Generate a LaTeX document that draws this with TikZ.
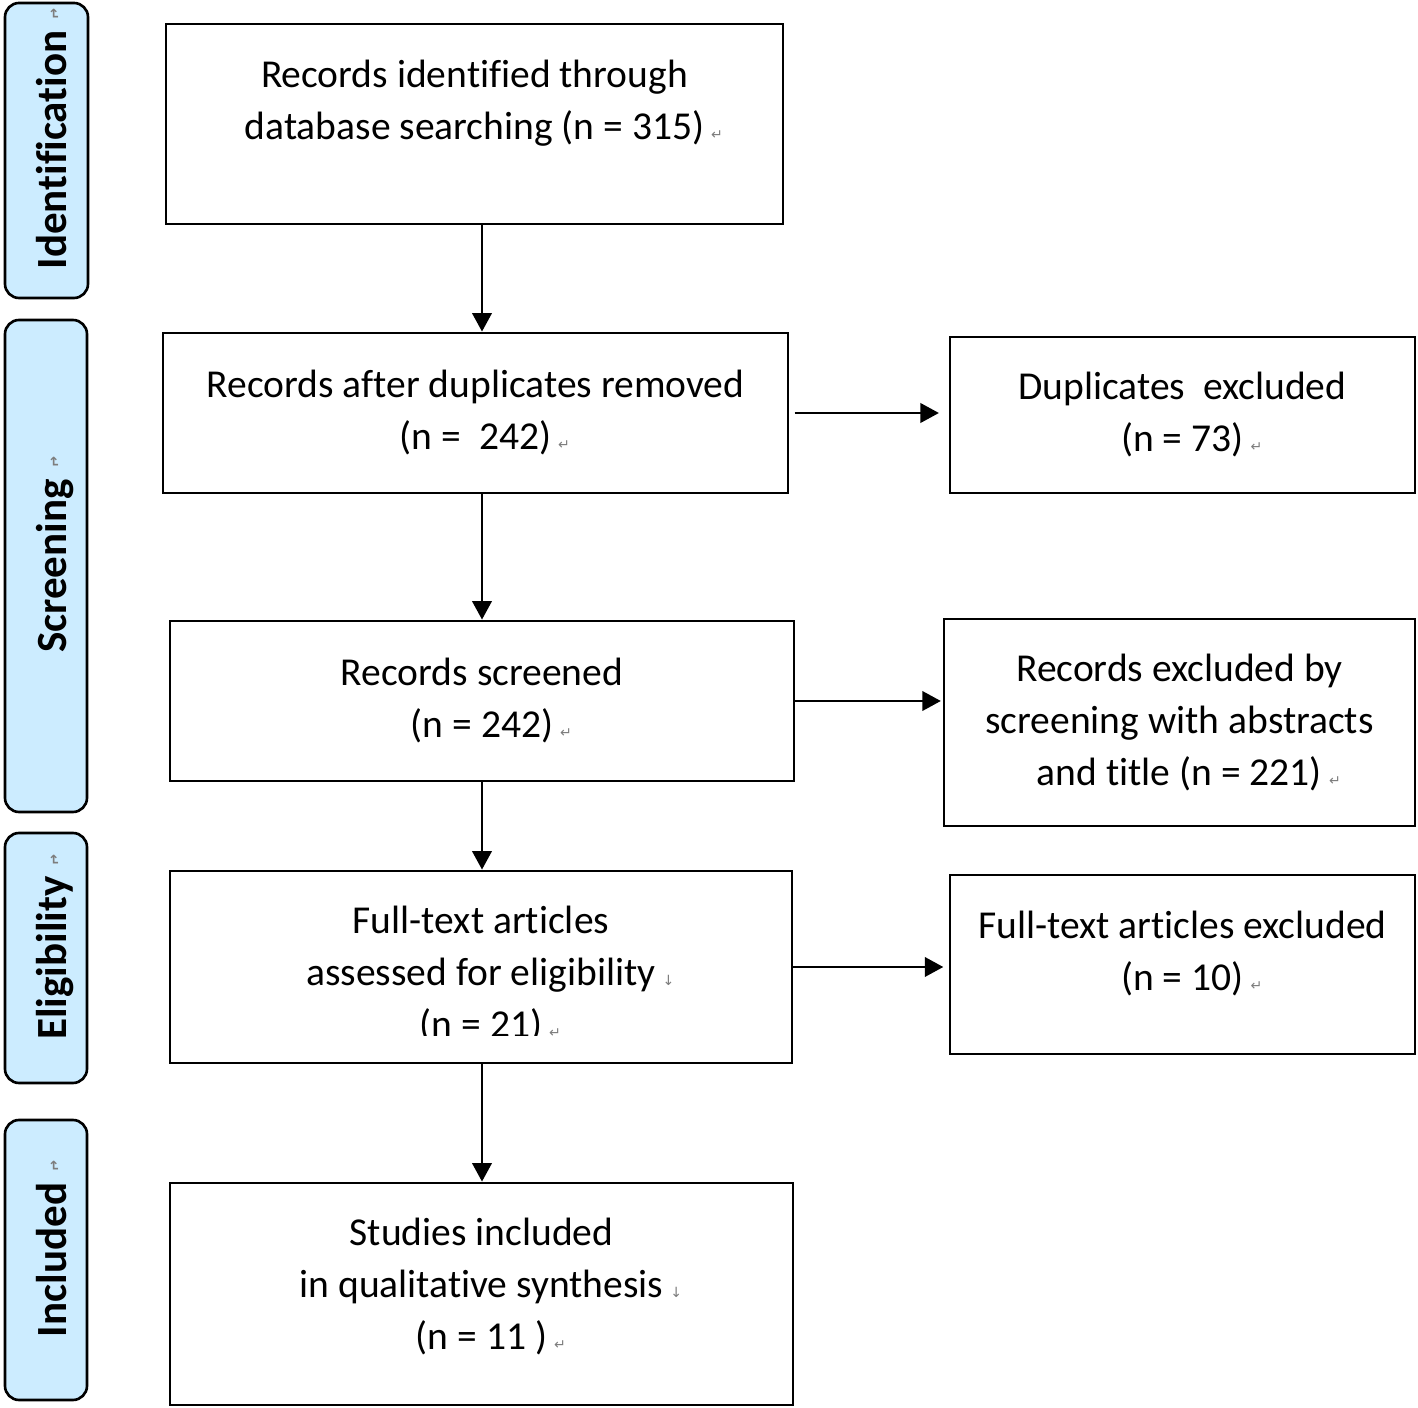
\documentclass[tikz,border=0pt]{standalone}
\usepackage{graphicx}
\usepackage{fontspec}
\setmainfont{Carlito}[Ligatures=NoCommon]
\newfontfamily\dejavu{DejaVu Sans}
\usetikzlibrary{arrows.meta,fit,calc}
\definecolor{phasefill}{RGB}{204,236,255}
\definecolor{markgray}{RGB}{125,125,125}
\newcommand{\pmark}{\rlap{\hspace{4pt}{\dejavu\fontsize{8}{8}\selectfont\color{markgray}↵}}}
\newcommand{\lmark}{\rlap{\hspace{4pt}{\dejavu\fontsize{8}{8}\selectfont\color{markgray}↓}}}
\newcommand{\smark}{\rlap{\hspace{6pt}\raisebox{5pt}{\rotatebox[origin=c]{180}{\dejavu\fontsize{8}{8}\selectfont\color{markgray}↵}}}}
\begin{document}
\begin{tikzpicture}[x=0.02cm,y=-0.02cm,
  box/.style={draw=black, line width=1.6pt, inner sep=0pt},
  phase/.style={draw=black, line width=1.5pt, rounded corners=8pt, fill=phasefill, inner sep=0pt},
  phasetxt/.style={rotate=90, anchor=base, inner sep=0pt, font=\fontsize{24.5}{28}\selectfont\bfseries},
  txt/.style={align=center, inner sep=0pt, font=\fontsize{22.5}{29.5}\selectfont},
  arr/.style={line width=1.5pt, -{Triangle[length=10.5pt,width=11pt]}}]
\useasboundingbox (0,0) rectangle (1418,1408);

% phase labels
\node[phase, fit={(5,3) (88,298)}] (p1) {};
\node[phasetxt] (p1t) at (67,150) {Identification\smark};
\node[phase, fit={(5,320) (87,812)}] (p2) {};
\node[phasetxt] (p2t) at (67,566) {Screening\smark};
\node[phase, fit={(5,833) (87,1083)}] (p3) {};
\node[phasetxt] (p3t) at (67,958) {Eligibility\smark};
\node[phase, fit={(5,1120) (87,1400)}] (p4) {};
\node[phasetxt] (p4t) at (67,1260) {Included\smark};

% boxes
\node[box, fit={(166,24) (783,224)}] (b1) {};
\node[box, fit={(163,333) (788,493)}] (b2) {};
\node[box, fit={(950,337) (1415,493)}] (b3) {};
\node[box, fit={(170,621) (794,781)}] (b4) {};
\node[box, fit={(944,619) (1415,826)}] (b5) {};
\node[box, fit={(170,871) (792,1063)}] (b6) {};
\node[box, fit={(950,875) (1415,1054)}] (b7) {};
\node[box, fit={(170,1183) (793,1405)}] (b8) {};

% texts
\node[txt] (t1) at (474.5,103) {\strut Records identified through\\\strut database searching (n = 315)\pmark};
\node[txt] (t2) at (475.5,413) {\strut Records after duplicates removed\\\strut (n =\ \ 242)\pmark};
\node[txt] (t3) at (1182.5,415) {\strut Duplicates\ \ excluded\\\strut (n = 73)\pmark};
\node[txt] (t4) at (482,701.5) {\strut Records screened\\\strut (n = 242)\pmark};
\node[txt] (t5) at (1179.5,723) {\strut Records excluded by\\\strut screening with abstracts\\\strut and title (n = 221)\pmark};
\begin{scope}
\clip (0,0) rectangle (1418,1036);
\node[txt] (t6) at (481,975) {\strut Full-text articles\\\strut assessed for eligibility\lmark\\\strut (n = 21)\pmark};
\end{scope}
\node[txt] (t7) at (1182.5,954) {\strut Full-text articles excluded\\\strut (n = 10)\pmark};
\node[txt] (t8) at (481.5,1287) {\strut Studies included\\\strut in qualitative synthesis\lmark\\\strut (n = 11 )\pmark};

% connectors
\draw[arr] (b1.south -| b4.center) -- (b2.north -| b4.center);
\draw[arr] (b2.south -| b4.center) -- (b4.north);
\draw[arr] (b4.south) -- (b6.north -| b4.center);
\draw[arr] (b6.south -| b4.center) -- (b8.north -| b4.center);
\draw[arr, shorten <=3pt, shorten >=5.5pt] (b2.east) -- (b2.east -| b3.west);
\draw[arr, shorten >=1pt] (b4.east) -- (b4.east -| b5.west);
\draw[arr, shorten >=3pt] (b6.east) -- (b6.east -| b7.west);
\end{tikzpicture}
\end{document}
